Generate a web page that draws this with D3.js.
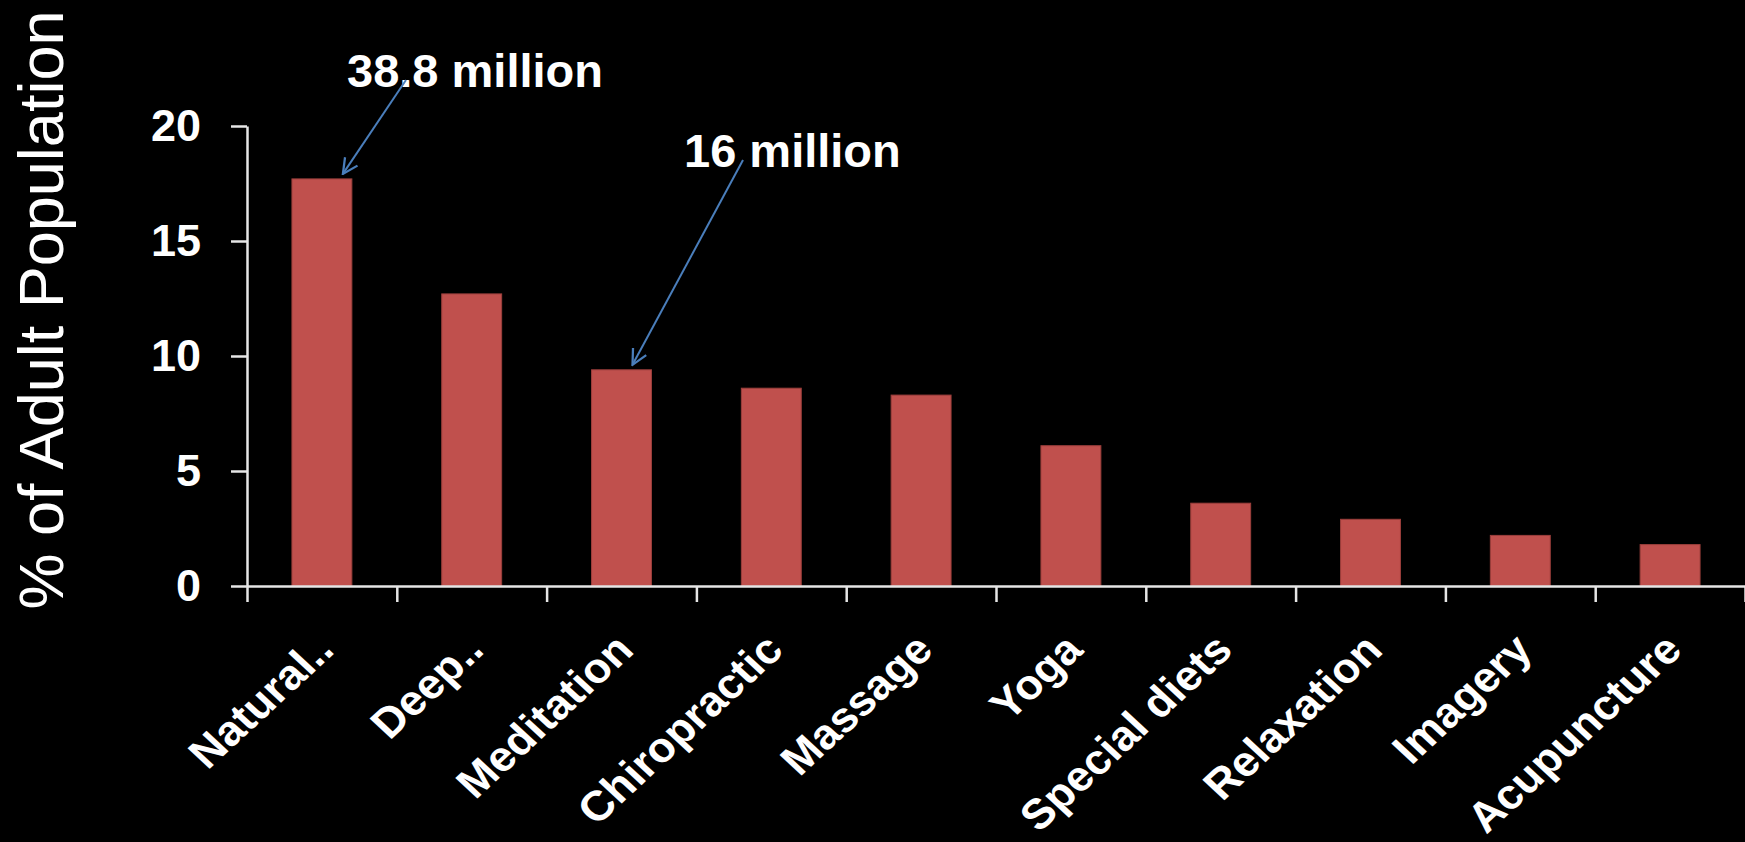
<!DOCTYPE html>
<html>
<head>
<meta charset="utf-8">
<script src="https://cdn.jsdelivr.net/npm/d3@7"></script>
<style>
  html, body { margin: 0; padding: 0; background: #000; }
  svg { display: block; }
</style>
</head>
<body>
<div id="chart"></div>
<script>
// --- data ---
const categories = ["Natural..", "Deep..", "Meditation", "Chiropractic", "Massage",
  "Yoga", "Special diets", "Relaxation", "Imagery", "Acupuncture"];
const percentAdults = [17.7, 12.7, 9.4, 8.6, 8.3, 6.1, 3.6, 2.9, 2.2, 1.8];
const yTicks = [0, 5, 10, 15, 20];
const noteLabels = ["38.8 million", "16 million"];
const noteTargets = ["Natural..", "Meditation"];

const width = 1745, height = 842;
const margin = { top: 126, left: 247, right: 0, bottom: 256 };

const svg = d3.select("#chart").append("svg")
  .attr("width", width)
  .attr("height", height)
  .style("background", "#000");

// --- scales ---
const x = d3.scaleBand()
  .domain(categories)
  .range([margin.left, width - margin.right])
  .padding(0);

const y = d3.scaleLinear()
  .domain([0, 20])
  .range([height - margin.bottom, margin.top]);

// tick marks sit on the band edges
const edges = d3.scaleLinear()
  .domain([0, categories.length])
  .range(x.range());

const font = "'Liberation Sans', Arial, sans-serif";

// --- bars ---
const barW = x.bandwidth() * 0.4;
svg.append("g").attr("class", "bars")
  .selectAll("rect")
  .data(categories)
  .join("rect")
  .attr("x", d => x(d) + (x.bandwidth() - barW) / 2)
  .attr("y", (d, i) => y(percentAdults[i]))
  .attr("width", barW)
  .attr("height", (d, i) => y(0) - y(percentAdults[i]))
  .attr("fill", "#c0504d")
  .attr("stroke", "#9c3f3c")
  .attr("stroke-width", 1);

// --- y axis ---
const yAxis = svg.append("g")
  .attr("transform", `translate(${margin.left},0)`)
  .call(d3.axisLeft(y).tickValues(yTicks).tickSize(16).tickSizeOuter(0).tickPadding(30));
yAxis.select(".domain").attr("stroke", "#e6e6e6").attr("stroke-width", 2.5);
yAxis.selectAll(".tick line").attr("stroke", "#e6e6e6").attr("stroke-width", 2.5);
yAxis.selectAll(".tick text")
  .attr("fill", "#fff")
  .style("font", `bold 45px ${font}`);

// --- x axis: edge ticks ---
const xAxis = svg.append("g")
  .attr("transform", `translate(0,${y(0)})`)
  .call(d3.axisBottom(edges).ticks(categories.length).tickSize(16).tickSizeOuter(0).tickFormat(""));
xAxis.select(".domain").attr("stroke", "#e6e6e6").attr("stroke-width", 2.5);
xAxis.selectAll(".tick line").attr("stroke", "#e6e6e6").attr("stroke-width", 2.5);

// --- x labels, rotated ---
svg.append("g").attr("class", "x-labels")
  .selectAll("text")
  .data(categories)
  .join("text")
  .attr("transform", d => `translate(${x(d) + x.bandwidth() / 2 + 14},${y(0) + 66}) scale(1.08,1) rotate(-45)`)
  .attr("text-anchor", "end")
  .attr("fill", "#fff")
  .style("font", `bold 42px ${font}`)
  .text(d => d);

// --- y title ---
svg.append("text")
  .attr("transform", "translate(63,310) rotate(-90)")
  .attr("text-anchor", "middle")
  .attr("fill", "#fff")
  .style("font", `63px ${font}`)
  .text("% of Adult Population");

// --- annotations ---
svg.append("defs").append("marker")
  .attr("id", "arrow")
  .attr("viewBox", "0 0 12 12")
  .attr("refX", 11).attr("refY", 6)
  .attr("markerWidth", 18).attr("markerHeight", 18)
  .attr("markerUnits", "userSpaceOnUse")
  .attr("orient", "auto")
  .append("path")
  .attr("d", "M1,1 L11,6 L1,11")
  .attr("fill", "none")
  .attr("stroke", "#4a7ebb")
  .attr("stroke-width", 1.5);

// label anchor and arrow start for each note, tip offset from bar centre
const noteLayout = [
  { tx: 347, ty: 87, sx: 406, sy: 80, dx: 21 },
  { tx: 684, ty: 167, sx: 743, sy: 160, dx: 11 }
];

noteLabels.forEach((label, i) => {
  const k = categories.indexOf(noteTargets[i]);
  const L = noteLayout[i];
  const tipX = x(noteTargets[i]) + x.bandwidth() / 2 + L.dx;
  const tipY = y(percentAdults[k]) - 5;
  svg.append("text")
    .attr("x", L.tx).attr("y", L.ty)
    .attr("fill", "#fff")
    .style("font", `bold 47px ${font}`)
    .text(label);
  svg.append("line")
    .attr("x1", L.sx).attr("y1", L.sy)
    .attr("x2", tipX).attr("y2", tipY)
    .attr("stroke", "#4a7ebb")
    .attr("stroke-width", 2)
    .attr("marker-end", "url(#arrow)");
});
</script>
</body>
</html>
